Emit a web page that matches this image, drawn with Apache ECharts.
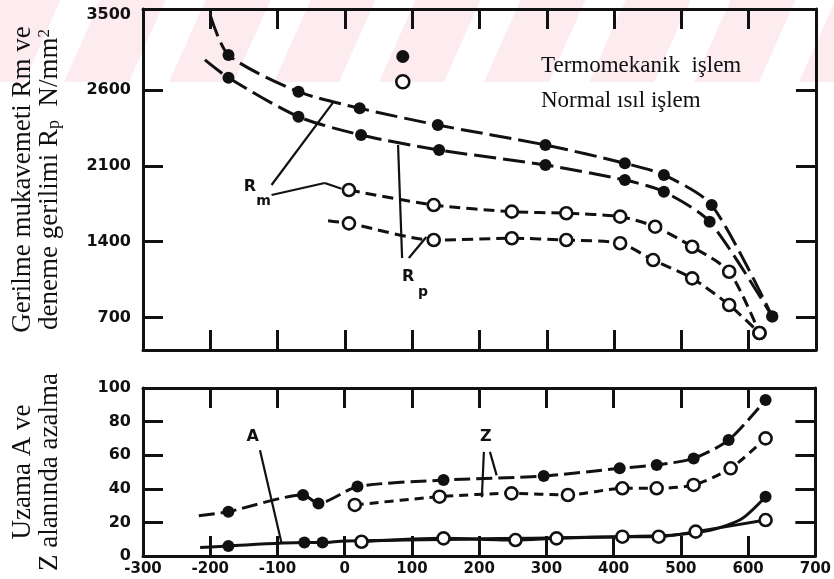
<!DOCTYPE html>
<html><head><meta charset="utf-8">
<script src="https://cdn.jsdelivr.net/npm/echarts@6/dist/echarts.min.js"></script>
<style>html,body{margin:0;padding:0;background:#fff}#c{width:834px;height:579px}</style>
</head><body><div id="c"></div><script>
// ---- tick labels ----
const xTickValues = [-300,-200,-100,0,100,200,300,400,500,600,700];
const xTickLabels = ['-300','-200','-100','0','100','200','300','400','500','600','700'];
const topYTickValues = [700,1400,2100,2800,3500];
const topYTickLabels = ['700','1400','2100','2600','3500'];
const botYTickValues = [0,20,40,60,80,100];
const botYTickLabels = ['0','20','40','60','80','100'];

// ---- series names ----
const nameTermo = 'Termomekanik işlem';
const nameNormal = 'Normal ısıl işlem';

// ---- top panel: Rm / Rp (N/mm2) vs temperature ----
const rmTermoLead = [-200, 3490];
const rmTermoX = [-173, -69, 22, 138, 298, 416, 474, 545, 635];
const rmTermoY = [3125, 2786, 2633, 2478, 2294, 2125, 2017, 1739, 709];
const rpTermoLead = [-208, 3080];
const rpTermoX = [-173, -69, 24, 140, 298, 416, 474, 542, 635];
const rpTermoY = [2915, 2555, 2386, 2247, 2109, 1970, 1862, 1585, 709];
const rmNormalX = [6, 132, 248, 329, 409, 461, 516, 571, 616];
const rmNormalY = [1878, 1739, 1678, 1663, 1632, 1539, 1354, 1123, 557];
const rpNormalLead = [-25, 1595];
const rpNormalX = [6, 132, 248, 329, 409, 458, 516, 571, 616];
const rpNormalY = [1570, 1416, 1432, 1416, 1386, 1231, 1062, 816, 557];

// ---- bottom panel: A / Z (%) vs temperature ----
const zTermoLead = [-217, 24];
const zTermoX = [-173, -62, -39, 19, 147, 296, 409, 464, 519, 571, 626];
const zTermoY = [26.4, 36.3, 31.3, 41.3, 45.2, 47.6, 52.2, 54.2, 58.1, 69, 92.9];
const zNormalX = [15, 141, 248, 332, 413, 464, 519, 574, 626];
const zNormalY = [30.4, 35.3, 37.3, 36.3, 40.3, 40.3, 42.3, 52.2, 70];
const aNormalX = [25, 147, 254, 315, 413, 467, 522, 626];
const aNormalY = [8.5, 10.5, 9.5, 10.5, 11.5, 11.5, 14.5, 21.4];
const aTermoX = [-215, -173, -60, -33, 0, 470, 545, 590, 626];
const aTermoY = [5, 6, 8, 8, 9, 12, 15.5, 22, 35.3];
const aTermoMeasured = [0, 1, 1, 1, 0, 0, 0, 0, 1];

// ---- annotations (data coordinates) ----
const topNotes = [['R', -141, 1906, 0], ['m', -121, 1770, 1], ['R', 94, 1074, 0], ['p', 116, 935, 1]];
const topLeaders = [
  [[-109, 1924], [-18, 2682]],
  [[-109, 1832], [-30, 1943], [-5, 1890]],
  [[79, 2294], [85, 1250]],
  [[95, 1250], [121, 1444]]
];
const botNotes = [['A', -137, 70.8, 0], ['Z', 210, 70.8, 0]];
const botLeaders = [
  [[-126, 63], [-94, 7.7]],
  [[207, 62], [204, 35]],
  [[216, 62], [226, 48]]
];

// ---- styling ----
const INK = '#111111';
const SERIF = '"Liberation Serif","DejaVu Serif",serif';
const SANS = '"DejaVu Sans",sans-serif';

function pts(xs, ys) { return xs.map((x, i) => [x, ys[i]]); }
function withLead(lead, xs, ys) { return [{ value: lead, symbol: 'none' }].concat(pts(xs, ys)); }
function labelFmt(vals, labels) { return v => { const i = vals.indexOf(Number(v)); return i >= 0 ? labels[i] : ''; }; }

function xAxis(grid, pos, showLabels) {
  return {
    type: 'value', gridIndex: grid, position: pos, min: -300, max: 700,
    axisLine: { show: true, onZero: false, lineStyle: { color: INK, width: 3 } },
    axisTick: { show: true, inside: true, length: 20, lineStyle: { color: INK, width: 3 }, customValues: xTickValues.slice(1, -1) },
    axisLabel: { show: showLabels, customValues: xTickValues, formatter: labelFmt(xTickValues, xTickLabels),
      showMinLabel: true, showMaxLabel: true, margin: 6, color: INK, fontFamily: SANS, fontWeight: 'bold', fontSize: 15 },
    splitLine: { show: false }
  };
}
function yAxis(grid, pos, min, max, vals, labels, tickVals, name) {
  const a = {
    type: 'value', gridIndex: grid, position: pos, min: min, max: max,
    axisLine: { show: true, onZero: false, lineStyle: { color: INK, width: 3 } },
    axisTick: { show: true, inside: true, length: 20, lineStyle: { color: INK, width: 3 }, customValues: tickVals },
    axisLabel: { show: pos === 'left', customValues: vals, formatter: labelFmt(vals, labels),
      showMinLabel: true, showMaxLabel: true, margin: 12, color: INK, fontFamily: SANS, fontWeight: 'bold', fontSize: 16 },
    splitLine: { show: false }
  };
  if (name) {
    a.name = name;
    a.nameLocation = 'middle';
    a.nameRotate = 90;
    a.nameGap = 80;
    a.nameTextStyle = {
      fontFamily: SERIF, fontSize: 27, lineHeight: 27, color: INK,
      rich: {
        sub: { fontFamily: SERIF, fontSize: 18, lineHeight: 12, verticalAlign: 'bottom', color: INK },
        sup: { fontFamily: SERIF, fontSize: 17, lineHeight: 12, verticalAlign: 'top', color: INK }
      }
    };
  }
  return a;
}

function filled(name, data, xi, yi, dash) {
  return { type: 'line', name: name, xAxisIndex: xi, yAxisIndex: yi, data: data, smooth: 0.25,
    symbol: 'circle', symbolSize: 12, itemStyle: { color: INK },
    lineStyle: { color: INK, width: 3, type: dash }, emphasis: { disabled: true }, z: 3 };
}
function open(name, data, xi, yi, dash) {
  return { type: 'line', name: name, xAxisIndex: xi, yAxisIndex: yi, data: data, smooth: 0.25,
    symbol: 'circle', symbolSize: 12, itemStyle: { color: '#fff', borderColor: INK, borderWidth: 2.6 },
    lineStyle: { color: INK, width: 3, type: dash }, emphasis: { disabled: true }, z: 4 };
}
function leaderSegs(polys) {
  const segs = [];
  polys.forEach(pl => { for (let i = 1; i < pl.length; i++) segs.push([{ coord: pl[i - 1] }, { coord: pl[i] }]); });
  return segs;
}
function notePoints(notes) {
  return notes.map(n => ({ coord: [n[1], n[2]], symbol: 'circle', symbolSize: 0.1,
    label: { show: true, position: 'inside', formatter: n[0], color: INK, fontFamily: SANS, fontWeight: 'bold', fontSize: n[3] ? 14 : 16 } }));
}
function annotate(series, notes, leaders) {
  series.markLine = { silent: true, animation: false, symbol: ['none', 'none'], label: { show: false },
    lineStyle: { color: INK, width: 2.2, type: 'solid' }, emphasis: { disabled: true }, data: leaderSegs(leaders) };
  series.markPoint = { silent: true, animation: false, data: notePoints(notes) };
  return series;
}

// watermark stripes (decoration)
const stripes = [{ type: 'rect', z: -10, silent: true, shape: { x: 0, y: 0, width: 834, height: 82 }, style: { fill: '#fdecef' } }];
for (let k = -2; k < 9; k++) {
  const c = 172 + 105 * k;
  const c0 = c + 13.5, c1 = c - 23;
  stripes.push({ type: 'polygon', z: -9, silent: true,
    shape: { points: [[c0 - 20, 0], [c0 + 20, 0], [c1 + 20, 82], [c1 - 20, 82]] }, style: { fill: '#ffffff' } });
}

const sRmNormal = annotate(open(nameNormal, pts(rmNormalX, rmNormalY), 0, 0, [11, 6]), topNotes, topLeaders);
const sZNormal = annotate(open(nameNormal, pts(zNormalX, zNormalY), 2, 2, [9, 6]), botNotes, botLeaders);

const aTermoData = aTermoX.map((x, i) => aTermoMeasured[i] ? [x, aTermoY[i]] : { value: [x, aTermoY[i]], symbol: 'none' });

const option = {
  backgroundColor: '#ffffff',
  animation: false,
  graphic: stripes,
  grid: [
    { left: 143, right: 18, top: 9, height: 341 },
    { left: 143, right: 18, top: 388, height: 168 }
  ],
  xAxis: [xAxis(0, 'bottom', false), xAxis(0, 'top', false), xAxis(1, 'bottom', true), xAxis(1, 'top', false)],
  yAxis: [
    yAxis(0, 'left', 400, 3550, topYTickValues, topYTickLabels, [700, 1400, 2100, 2800],
      'Gerilme mukavemeti Rm ve\ndeneme gerilimi R{sub|p}  N/mm{sup|2}'),
    yAxis(0, 'right', 400, 3550, topYTickValues, topYTickLabels, [700, 1400, 2100, 2800]),
    yAxis(1, 'left', 0, 100, botYTickValues, botYTickLabels, [20, 40, 60, 80], 'Uzama A ve\nZ alanında azalma'),
    yAxis(1, 'right', 0, 100, botYTickValues, botYTickLabels, [20, 40, 60, 80])
  ],
  legend: [
    { left: 390, top: 45, orient: 'vertical', itemWidth: 13, itemHeight: 13, itemGap: 11, formatter: () => '',
      data: [
        { name: nameTermo, icon: 'circle', itemStyle: { color: INK } },
        { name: nameNormal, icon: 'circle', itemStyle: { color: '#fff', borderColor: INK, borderWidth: 2.6 } }
      ] },
    { left: 530, top: 48, orient: 'vertical', itemWidth: 0, itemHeight: 0, itemGap: 9,
      formatter: n => n === nameTermo ? 'Termomekanik  işlem' : n,
      textStyle: { fontFamily: SERIF, fontSize: 23, lineHeight: 26, color: INK },
      data: [{ name: nameTermo, icon: 'circle', itemStyle: { opacity: 0 } }, { name: nameNormal, icon: 'circle', itemStyle: { opacity: 0 } }] }
  ],
  series: [
    filled(nameTermo, withLead(rmTermoLead, rmTermoX, rmTermoY), 0, 0, [22, 7]),
    filled(nameTermo, withLead(rpTermoLead, rpTermoX, rpTermoY), 0, 0, [22, 7]),
    sRmNormal,
    open(nameNormal, withLead(rpNormalLead, rpNormalX, rpNormalY), 0, 0, [11, 6]),
    filled(nameTermo, withLead(zTermoLead, zTermoX, zTermoY), 2, 2, [16, 6]),
    sZNormal,
    Object.assign(open(nameNormal, pts(aNormalX, aNormalY), 2, 2, 'solid'), { z: 4 }),
    Object.assign(filled(nameTermo, aTermoData, 2, 2, 'solid'), { z: 3 })
  ]
};

const chart = echarts.init(document.getElementById('c'), null, { renderer: 'canvas' });
chart.setOption(option);
</script></body></html>
